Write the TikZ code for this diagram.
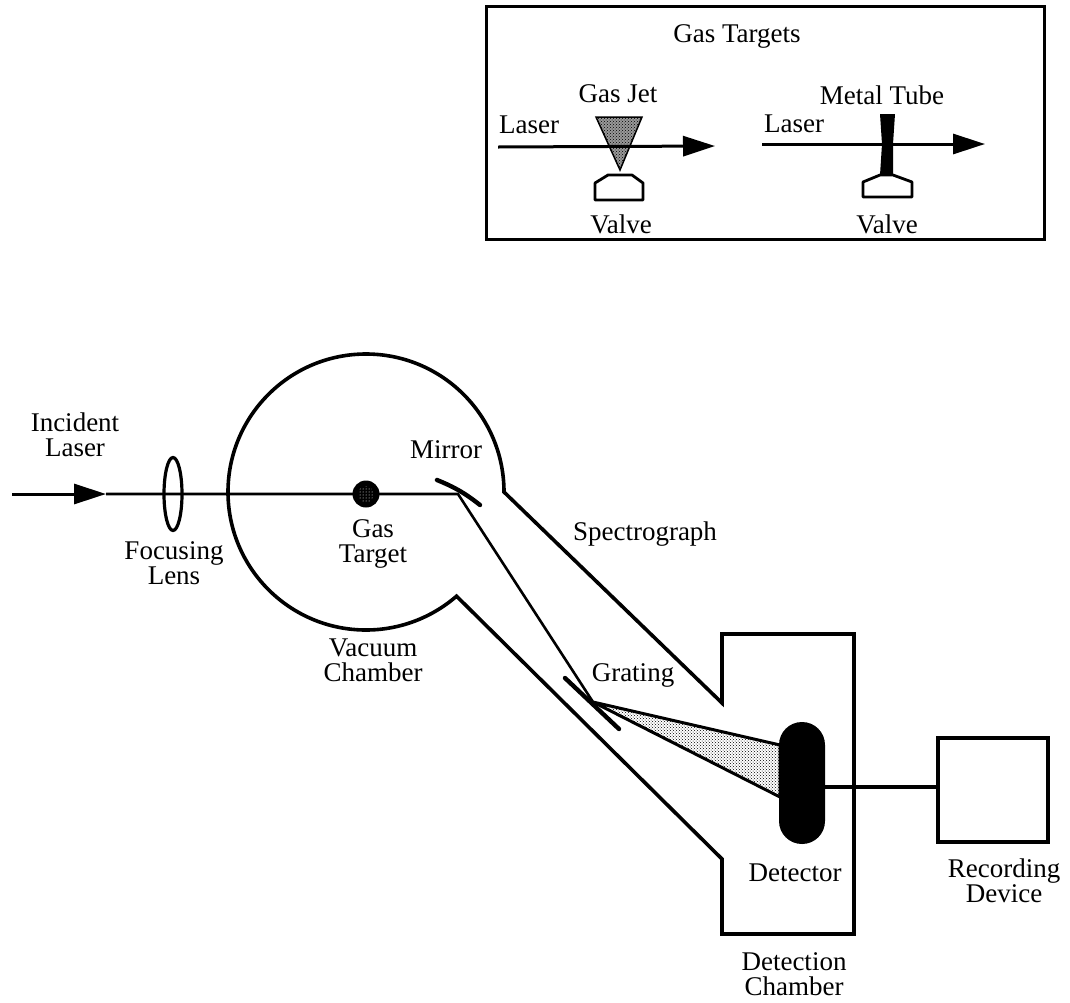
\documentclass[tikz,border=0pt]{standalone}
\usepackage{fontspec}
\setmainfont{Liberation Serif}
\usetikzlibrary{shapes,arrows.meta,positioning,patterns,calc}
\tikzset{
	lbl/.style={align=center, inner sep=0pt, font=\fontsize{27}{25}\selectfont},
	wall/.style={line width=3.6pt, line join=miter},
	beam/.style={line width=2.6pt},
	beamarr/.style={-{Triangle[length=32pt,width=20pt]}, line width=3pt},
	dots/.style={pattern=crosshatch dots, pattern color=black},
	mirrorbar/.style={line width=4.4pt, line cap=round}
}

\begin{document}
\begin{tikzpicture}[x=1pt,y=-1pt]
	\useasboundingbox (0,0) rectangle (1070,1002);
	% inset box
	\node[draw, line width=3pt, minimum width=558pt, minimum height=233pt, inner sep=0pt] (inset) at (765,122.5) {};
	\node[lbl] (title) at (737,36) {Gas Targets};
	\node[lbl] (jetlbl) at (618,94) {Gas Jet};
	\node[lbl] (tubelbl) at (882,95) {Metal Tube};
	\node[lbl] (laserl) at (529,125) {Laser};
	\node[lbl] (laserr) at (794,124) {Laser};
	\node[lbl] (valvel) at (621,224) {Valve};
	\node[lbl] (valver) at (887,224) {Valve};
	\coordinate (jetin) at (498,147);
	\coordinate (jetout) at (715,146);
	\coordinate (tubein) at (762,144);
	\coordinate (tubeout) at (985,144);
	\draw[dots, preaction={fill=black!40}, line width=1.5pt] (596,117) -- (642,117) -- (620,170) -- cycle;
	\draw[beamarr] (jetin) -- (jetout);
	\draw[beamarr] (tubein) -- (tubeout);
	\draw[line width=2.8pt, line join=round] (595,200) -- (595,183) -- (608,175) -- (632,175) -- (643,183) -- (643,200) -- cycle;
	\fill (880,114) -- (895,114) -- (893,144) -- (893,175) -- (880,175) -- (882,144) -- cycle;
	\draw[line width=2.8pt, line join=round] (863,197) -- (863,182) -- (880,175) -- (893,175) -- (912,182) -- (912,197) -- cycle;

	% chamber and spectrograph
	\draw[wall] (504,492) arc[start angle=0, end angle=-311, radius=138] -- (722,859) -- (722,934) -- (854,934) -- (854,634) -- (722,634) -- (722,703) -- cycle;
	\node[draw, line width=3.4pt, minimum width=110pt, minimum height=104pt, inner sep=0pt] (recorder) at (993,790) {};
	\node[fill=black, rounded corners=22.9pt, minimum width=46pt, minimum height=122pt, inner sep=0pt] (detector) at (802,783) {};

	% beam path
	\coordinate (start) at (12,494);
	\coordinate (head) at (106,494);
	\coordinate (mirror) at (458,494);
	\coordinate (grating) at (593,702);
	\coordinate (fantop) at (780,745);
	\coordinate (fanbot) at (780,797);
	\draw[dots, line width=3pt, line join=round] (grating) -- (fantop) -- (fanbot) -- cycle;
	\draw[beamarr] (start) -- (head);
	\draw[beam] (head) -- (mirror) -- (grating);
	\node[draw, line width=3.2pt, ellipse, minimum width=18pt, minimum height=73pt, inner sep=0pt] (lens) at (173,494) {};
	\node[circle, fill=black, minimum size=27pt, inner sep=0pt] (target) at (366,494) {};
	\fill[pattern=dots, pattern color=white] (target) circle (8);
	\draw[mirrorbar] (437,480) to[bend left=8] (480,505);
	\draw[mirrorbar] (565,678) -- (619,729);
	\draw[wall] (detector.east |- 0,787) -- (recorder.west |- 0,787);

	% labels
	\node[lbl] (incident) at (75,435) {Incident\\Laser};
	\node[lbl] (focus) at (174,563) {Focusing\\Lens};
	\node[lbl] (gastarget) at (373,544) {Gas\\Target};
	\node[lbl] (mirrorlbl) at (446,450) {Mirror};
	\node[lbl] (spec) at (645,534) {Spectrograph};
	\node[lbl] (vacuum) at (373,660) {Vacuum\\Chamber};
	\node[lbl] (gratinglbl) at (633,675) {Grating};
	\node[lbl] (detlbl) at (795,873) {Detector};
	\node[lbl] (reclbl) at (1004,881) {Recording\\Device};
	\node[lbl] (detcham) at (794,974) {Detection\\Chamber};
\end{tikzpicture}
\end{document}
